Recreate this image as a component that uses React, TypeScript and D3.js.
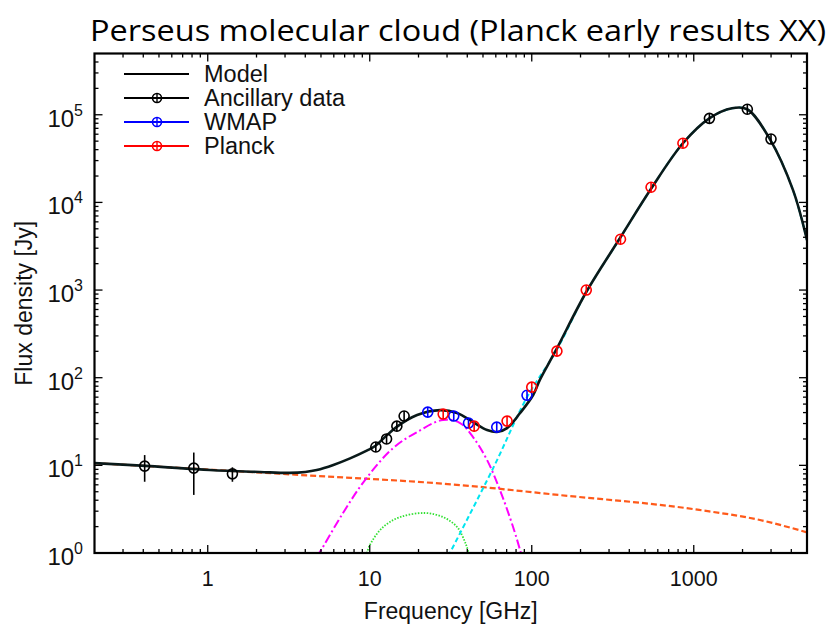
import React from 'react';
import * as d3 from 'd3';

const W = 831;
const H = 626;
const PL = 94.5, PR = 807, PT = 53.5, PB = 553;

const xDomain = [0.2, 5000];
const yDomain = [1, 5e5];
const xTickVals = [1, 10, 100, 1000];
const xTickLabels = ['1', '10', '100', '1000'];
const yTickExps = [0, 1, 2, 3, 4, 5];

// Ancillary data
const ancFreq = [0.408, 0.82, 1.42, 10.9, 12.7, 14.7, 16.3, 1249, 2141, 2998];
const ancFlux = [9.8, 9.3, 8.0, 16.2, 20, 28, 36.5, 91000, 115600, 52800];
const ancErr = [3.3, 4.7, 1.5, 0, 0, 0, 0, 0, 0, 0];
// WMAP
const wmapFreq = [22.8, 33, 40.7, 60.8, 93.5];
const wmapFlux = [40.5, 36.5, 30.4, 27.3, 63];
// Planck
const planckFreq = [28.4, 44.1, 70.4, 100, 143, 217, 353, 545, 857];
const planckFlux = [38.5, 28, 32, 78, 201, 1000, 3800, 14900, 47300];

// Model total
const modelFreq = [0.2, 0.44, 1.03, 2.1, 3.2, 4.0, 4.71, 5.96, 7.56, 9.58, 10.8, 12.4, 14.6, 19.6, 27.2, 34.6, 43.4, 53, 61, 70.4, 84.7, 102, 112, 141, 217, 353, 545, 857, 1247, 1722, 2136, 2950, 4100, 5000];
const modelFlux = [10.6, 9.8, 8.84, 8.4, 8.2, 8.4, 8.84, 10.1, 12.0, 14.7, 16.6, 21, 27.3, 37.5, 42.7, 39.5, 31.2, 25.3, 24, 26.6, 39.5, 63.5, 94, 206, 950, 4000, 14300, 47300, 91000, 118600, 115600, 52800, 13800, 3700];
// Free-free (orange dashed)
const ffFreq = [0.2, 3.7, 36, 149, 1080, 2560, 5000];
const ffFlux = [10.6, 7.77, 5.96, 4.58, 3.1, 2.38, 1.72];
// Spinning dust (magenta dash-dot)
const sdFreq = [4.7, 4.93, 6.84, 9.35, 13.9, 19.6, 28.3, 36.1, 43.4, 53, 63.7, 76.7, 84.7, 87];
const sdFlux = [0.9, 1.03, 2.86, 6.8, 15.7, 24, 32.9, 30.4, 21, 11.5, 5.2, 1.98, 1.08, 0.9];
// Small component (green dotted)
const gFreq = [9.5, 10.0, 12.1, 15.4, 21.9, 28.3, 34.6, 39.4, 41];
const gFlux = [0.92, 1.23, 1.98, 2.57, 2.86, 2.57, 1.98, 1.23, 0.95];
// Thermal dust (cyan dashed)
const dustFreq = [30.5, 57.8, 93.5, 141, 217, 353, 545, 857, 1247, 1722, 2136, 2950, 4100, 5000];
const dustFlux = [0.92, 9.3, 60, 200, 945, 3990, 14300, 47300, 91000, 118600, 115600, 52800, 13800, 3700];

const legendNames = ['Model', 'Ancillary data', 'WMAP', 'Planck'];
const legendColors = ['#000000', '#000000', '#0000ff', '#ff0000'];

const FONT = '"Liberation Sans", Arial, Helvetica, sans-serif';

export default function App() {
  const x = d3.scaleLog().domain(xDomain).range([PL, PR]);
  const y = d3.scaleLog().domain(yDomain).range([PB, PT]);

  const lineMono = d3
    .line<[number, number]>()
    .x((d) => x(d[0]))
    .y((d) => y(d[1]))
    .curve(d3.curveMonotoneX);
  const lineSmooth = d3
    .line<[number, number]>()
    .x((d) => x(d[0]))
    .y((d) => y(d[1]))
    .curve(d3.curveCatmullRom.alpha(0.5));

  const zip = (a: number[], b: number[]) => a.map((v, i) => [v, b[i]] as [number, number]);

  const xMinor: number[] = [];
  for (let e = -1; e <= 3; e++) {
    for (let m = 2; m <= 9; m++) {
      const v = m * Math.pow(10, e);
      if (v > xDomain[0] * 1.0001 && v < xDomain[1] * 0.9999) xMinor.push(v);
    }
  }
  const yMinor: number[] = [];
  for (let e = 0; e <= 5; e++) {
    for (let m = 2; m <= 9; m++) {
      const v = m * Math.pow(10, e);
      if (v < yDomain[1] * 0.9999) yMinor.push(v);
    }
  }
  const MAJ = 8;
  const MIN = 4;

  const marker = (f: number, s: number, color: string, key: string, err = 0) => {
    const cx = x(f);
    const cy = y(s);
    const r = 5;
    const top = err > 0 ? y(s + err) : cy - r;
    const bot = err > 0 ? y(s - err) : cy + r;
    return (
      <g key={key}>
        <line x1={cx} x2={cx} y1={top} y2={bot} stroke={color} strokeWidth={1.6} />
        <circle cx={cx} cy={cy} r={r} fill="none" stroke={color} strokeWidth={1.6} />
      </g>
    );
  };

  return (
    <svg
      width={W}
      height={H}
      style={{ position: 'absolute', left: 0, top: 0, background: '#fff' }}
      xmlns="http://www.w3.org/2000/svg"
    >
      <rect x={0} y={0} width={W} height={H} fill="#fff" />
      <defs>
        <clipPath id="plotclip">
          <rect x={PL} y={PT} width={PR - PL} height={PB - PT} />
        </clipPath>
      </defs>

      {/* Title */}
      <text
        x={90}
        y={41}
        fontFamily='"Open Sans", "Noto Sans", sans-serif'
        fontSize={30}
        textLength={736}
        lengthAdjust="spacingAndGlyphs"
        fill="#000"
      >
        Perseus molecular cloud (Planck early results XX)
      </text>

      {/* Curves */}
      <g clipPath="url(#plotclip)" fill="none">
        <path d={lineMono(zip(ffFreq, ffFlux)) || ''} stroke="#ff5a1a" strokeWidth={2.2} strokeDasharray="6,3" />
        <path d={lineSmooth(zip(gFreq, gFlux)) || ''} stroke="#33e033" strokeWidth={1.8} strokeDasharray="1.5,1.5" />
        <path d={lineSmooth(zip(sdFreq, sdFlux)) || ''} stroke="#ff00ff" strokeWidth={2} strokeDasharray="9,3,2,3" />
        <path d={lineSmooth(zip(dustFreq, dustFlux)) || ''} stroke="#00e5f0" strokeWidth={2} strokeDasharray="5,3" />
        <path d={lineSmooth(zip(modelFreq, modelFlux)) || ''} stroke="#0a1a1a" strokeWidth={2.6} />
      </g>

      {/* Data points */}
      <g>
        {ancFreq.map((f, i) => marker(f, ancFlux[i], '#000', 'a' + i, ancErr[i]))}
        {wmapFreq.map((f, i) => marker(f, wmapFlux[i], '#0000ff', 'w' + i))}
        {planckFreq.map((f, i) => marker(f, planckFlux[i], '#ff0000', 'p' + i))}
      </g>

      {/* Ticks */}
      <g stroke="#000" strokeWidth={1.3}>
        {xTickVals.map((v) => (
          <g key={'xt' + v}>
            <line x1={x(v)} x2={x(v)} y1={PB} y2={PB - MAJ} />
            <line x1={x(v)} x2={x(v)} y1={PT} y2={PT + MAJ} />
          </g>
        ))}
        {xMinor.map((v) => (
          <g key={'xm' + v}>
            <line x1={x(v)} x2={x(v)} y1={PB} y2={PB - MIN} />
            <line x1={x(v)} x2={x(v)} y1={PT} y2={PT + MIN} />
          </g>
        ))}
        {yTickExps.map((e) => (
          <g key={'yt' + e}>
            <line x1={PL} x2={PL + MAJ} y1={y(Math.pow(10, e))} y2={y(Math.pow(10, e))} />
            <line x1={PR} x2={PR - MAJ} y1={y(Math.pow(10, e))} y2={y(Math.pow(10, e))} />
          </g>
        ))}
        {yMinor.map((v) => (
          <g key={'ym' + v}>
            <line x1={PL} x2={PL + MIN} y1={y(v)} y2={y(v)} />
            <line x1={PR} x2={PR - MIN} y1={y(v)} y2={y(v)} />
          </g>
        ))}
      </g>

      {/* Frame */}
      <rect x={PL} y={PT} width={PR - PL} height={PB - PT} fill="none" stroke="#000" strokeWidth={2.2} />

      {/* Tick labels */}
      <g fontFamily={FONT} fill="#111">
        {xTickVals.map((v, i) => (
          <text key={'xl' + v} x={x(v)} y={586} textAnchor="middle" fontSize={21.5}>
            {xTickLabels[i]}
          </text>
        ))}
        {yTickExps.map((e) => (
          <text key={'yl' + e} x={83} y={y(Math.pow(10, e)) + 12} textAnchor="end" fontSize={24}>
            10
            <tspan dy={-11} fontSize={16}>
              {String(e)}
            </tspan>
          </text>
        ))}
      </g>

      {/* Axis labels */}
      <text x={(PL + PR) / 2} y={619} textAnchor="middle" fontFamily={FONT} fontSize={23} fill="#111">
        Frequency [GHz]
      </text>
      <text
        transform={`translate(32, ${(PT + PB) / 2}) rotate(-90)`}
        textAnchor="middle"
        fontFamily={FONT}
        fontSize={23}
        fill="#111"
      >
        Flux density [Jy]
      </text>

      {/* Legend */}
      <g fontFamily={FONT} fontSize={23.5} fill="#111">
        {legendNames.map((n, i) => {
          const ly = 74 + i * 24;
          return (
            <g key={'lg' + i}>
              <line x1={124} x2={189} y1={ly} y2={ly} stroke={legendColors[i]} strokeWidth={2.2} />
              {i > 0 && (
                <g>
                  <circle cx={157} cy={ly} r={4.5} fill="none" stroke={legendColors[i]} strokeWidth={1.6} />
                  <line x1={157} x2={157} y1={ly - 4.5} y2={ly + 4.5} stroke={legendColors[i]} strokeWidth={1.4} />
                </g>
              )}
              <text x={204} y={ly + 8}>
                {n}
              </text>
            </g>
          );
        })}
      </g>
    </svg>
  );
}
